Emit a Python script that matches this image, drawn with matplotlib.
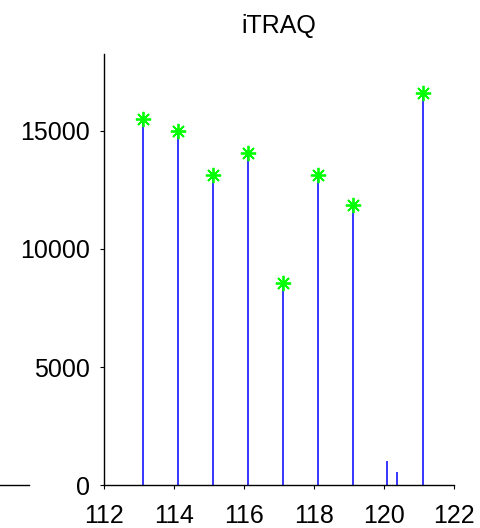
import numpy as np
import matplotlib
matplotlib.use("Agg")
import matplotlib.pyplot as plt
from matplotlib.lines import Line2D

# reporter ion peaks (m/z, intensity)
reporter_mz = [113.107, 114.111, 115.108, 116.111, 117.115, 118.111, 119.115, 121.122]
reporter_int = [15500, 15000, 13150, 14070, 8570, 13150, 11850, 16600]

# other small peaks in the window
noise_mz = [120.08, 120.36]
noise_int = [1010, 550]

x_ticks = [112, 114, 116, 118, 120, 122]
y_ticks = [0, 5000, 10000, 15000]

plt.rcParams['font.family'] = ['Liberation Sans', 'DejaVu Sans']

fig = plt.figure(figsize=(4.81, 5.28), dpi=100)
ax = fig.add_axes([0.2162, 0.0814, 0.7277, 0.8163])

all_mz = reporter_mz + noise_mz
all_int = reporter_int + noise_int
ax.vlines(all_mz, 0, all_int, colors=(0, 0, 1), linewidth=1.1)
ax.plot(reporter_mz, reporter_int, linestyle='none', marker=(8, 2, 0),
        markersize=11, markeredgewidth=1.3, color=(0, 1, 0))

ax.set_xlim(112, 122)
ax.set_ylim(0, 1.1 * max(all_int))
ax.set_xticks(x_ticks)
ax.set_yticks(y_ticks)
ax.tick_params(direction='out', length=3, width=0.8, labelsize=18)
ax.tick_params(axis='x', pad=11)
ax.tick_params(axis='y', pad=7)
for s in ['top', 'right']:
    ax.spines[s].set_visible(False)
for s in ['left', 'bottom']:
    ax.spines[s].set_linewidth(1.0)
ax.set_title("iTRAQ", fontsize=18, pad=15)

# stray bit of the neighbouring panel's axis
fig.add_artist(Line2D([0, 29 / 481], [43 / 528, 43 / 528], color='black', linewidth=1.0))

fig.savefig("out.png", dpi=100)
